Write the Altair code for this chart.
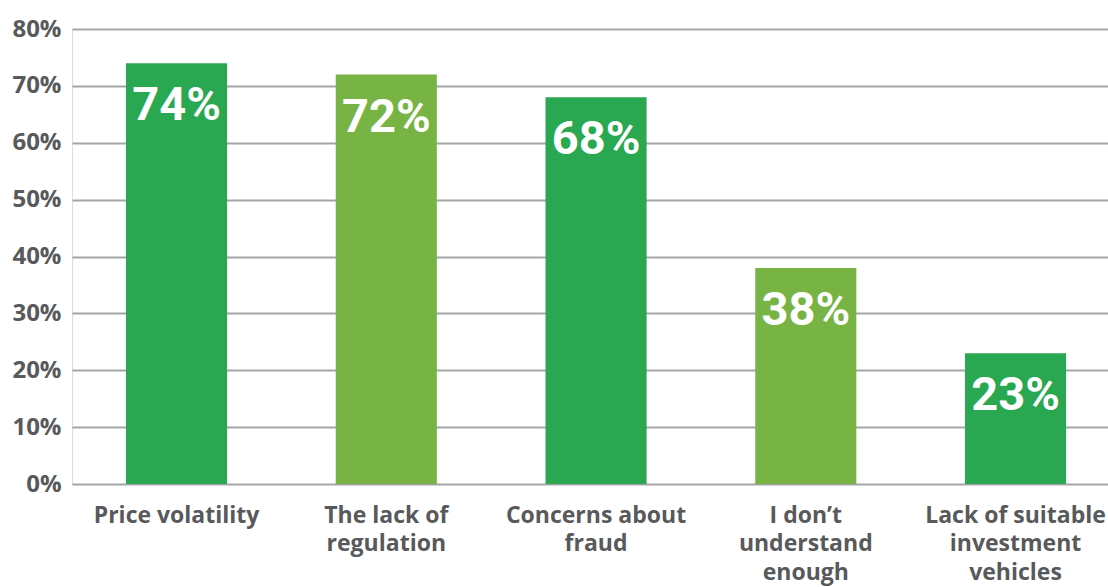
import altair as alt
import pandas as pd

categories = [
    "Price volatility",
    "The lack of regulation",
    "Concerns about fraud",
    "I don’t understand enough",
    "Lack of suitable investment vehicles",
]
label_lines = [
    ["Price volatility"],
    ["The lack of", "regulation"],
    ["Concerns about", "fraud"],
    ["I don’t", "understand", "enough"],
    ["Lack of suitable", "investment", "vehicles"],
]
values = [74, 72, 68, 38, 23]
shade = ["dark", "light", "dark", "light", "dark"]
y_ticks = [0, 10, 20, 30, 40, 50, 60, 70, 80]

df = pd.DataFrame({
    "category": categories,
    "value": values,
    "shade": shade,
    "label": [f"{v}%" for v in values],
})

label_map = {c: l for c, l in zip(categories, label_lines)}
label_expr = "{" + ",".join(
    '"' + c + '":[' + ",".join('"' + s + '"' for s in l) + "]" for c, l in label_map.items()
) + "}[datum.value]"

GRAY = "#58595B"
AXFONT = "Open Sans"
FONT = "Roboto"

x = alt.X(
    "category:N",
    sort=categories,
    title=None,
    scale=alt.Scale(paddingInner=0.518, paddingOuter=0.2286, align=0.563),
    axis=alt.Axis(
        labelExpr=label_expr,
        labelAngle=0,
        labelFont=AXFONT,
        labelFontWeight="bold",
        labelFontSize=23,
        labelColor=GRAY,
        labelLineHeight=28.5,
        labelPadding=20,
        labelBaseline="top",
        ticks=False,
        domain=False,
        grid=False,
        labelLimit=400,
        labelOverlap=False,
    ),
)

y = alt.Y(
    "value:Q",
    title=None,
    scale=alt.Scale(domain=[0, 80], nice=False),
    axis=alt.Axis(
        values=y_ticks,
        labelExpr="datum.value + '%'",
        labelFont=AXFONT,
        labelFontWeight="bold",
        labelFontSize=24,
        labelColor=GRAY,
        labelPadding=11,
        ticks=False,
        domain=False,
        grid=True,
        gridColor="#A3A5A8",
        gridWidth=2.2,
    ),
)

bars = alt.Chart(df).mark_bar().encode(
    x=x,
    y=y,
    color=alt.Color(
        "shade:N",
        scale=alt.Scale(domain=["dark", "light"], range=["#29A751", "#77B443"]),
        legend=None,
    ),
)

text = alt.Chart(df).mark_text(
    color="white",
    font=FONT,
    fontWeight="bold",
    fontSize=47,
    baseline="alphabetic",
    align="center",
    dy=57,
).encode(
    x=alt.X("category:N", sort=categories),
    y=alt.Y("value:Q"),
    text="label:N",
)

chart = (
    alt.layer(bars, text)
    .properties(
        width=1036,
        height=455,
        autosize=alt.AutoSizeParams(type="none"),
        padding={"left": 72, "top": 29, "right": 0, "bottom": 103},
    )
    .configure_view(stroke=None)
    .configure(background="white")
)

chart.save("out.html", embed_options={"renderer": "svg", "actions": False})
